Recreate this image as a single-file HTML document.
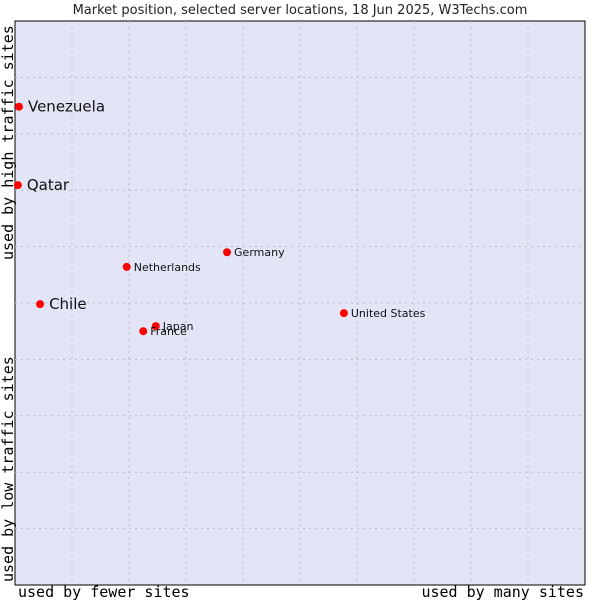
<!DOCTYPE html>
<html><head><meta charset="utf-8"><style>
body{margin:0;background:#fff}
svg{display:block}
</style></head><body>
<svg id="c" width="600" height="600" xmlns="http://www.w3.org/2000/svg">
<text x="300" y="14" text-anchor="middle" font-family="DejaVu Sans, sans-serif" font-size="13" fill="#222">Market position, selected server locations, 18 Jun 2025, W3Techs.com</text>
<rect x="15" y="21" width="570" height="564" fill="#e3e5f7" stroke="#000" stroke-width="1"/>
<g id="grid"></g>
<g id="pts"></g>
<text transform="translate(13,582) rotate(-90)" font-family="DejaVu Sans Mono, monospace" font-size="15" fill="#000">used by low traffic sites</text>
<text transform="translate(13,260) rotate(-90)" font-family="DejaVu Sans Mono, monospace" font-size="15" fill="#000">used by high traffic sites</text>
<text x="18" y="597" font-family="DejaVu Sans Mono, monospace" font-size="15" fill="#000">used by fewer sites</text>
<text x="584" y="597" text-anchor="end" font-family="DejaVu Sans Mono, monospace" font-size="15" fill="#000">used by many sites</text>
</svg>
<script>
const names=["Venezuela","Qatar","Chile","Netherlands","Germany","United States","Japan","France"];
const xVals=[0.7,0.5,4.4,19.6,37.2,57.7,24.7,22.5];
const yVals=[84.8,70.9,49.8,56.4,59.0,48.2,45.9,45.0];
const bigLabel=[true,true,true,false,false,false,false,false];
const X0=15,X1=585,Y0=585,Y1=21;
function sx(v){return X0+(X1-X0)*v/100;}
function sy(v){return Y0-(Y0-Y1)*v/100;}
const NS="http://www.w3.org/2000/svg";
const grid=document.getElementById('grid');
for(let i=1;i<10;i++){
  const gx=document.createElementNS(NS,'line');
  
  
  gx.setAttribute('x1',sx(i*10));gx.setAttribute('x2',sx(i*10));
  gx.setAttribute('y1',Y1);gx.setAttribute('y2',Y0);
  gx.setAttribute('stroke','#bbb');gx.setAttribute('stroke-dasharray','2,4');
  grid.appendChild(gx);
  const gy=document.createElementNS(NS,'line');
  
  
  gy.setAttribute('y1',sy(i*10));gy.setAttribute('y2',sy(i*10));
  gy.setAttribute('x1',X0);gy.setAttribute('x2',X1);
  gy.setAttribute('stroke','#bbb');gy.setAttribute('stroke-dasharray','2,4');
  grid.appendChild(gy);
}
const pts=document.getElementById('pts');
names.forEach((n,i)=>{
  const x=sx(xVals[i]),y=sy(yVals[i]);
  const c=document.createElementNS(NS,'circle');
  
  
  c.setAttribute('cx',x);c.setAttribute('cy',y);c.setAttribute('r',4);
  c.setAttribute('fill','#f00');
  pts.appendChild(c);
  const t=document.createElementNS(NS,'text');
  
  
  t.setAttribute('x',x+(bigLabel[i]?9:7));
  t.setAttribute('y',y+(bigLabel[i]?5:4));
  t.setAttribute('font-family','DejaVu Sans, sans-serif');
  t.setAttribute('font-size',bigLabel[i]?15:11);
  t.setAttribute('fill','#111');
  t.textContent=n;
  pts.appendChild(t);
});
</script>
</body></html>
